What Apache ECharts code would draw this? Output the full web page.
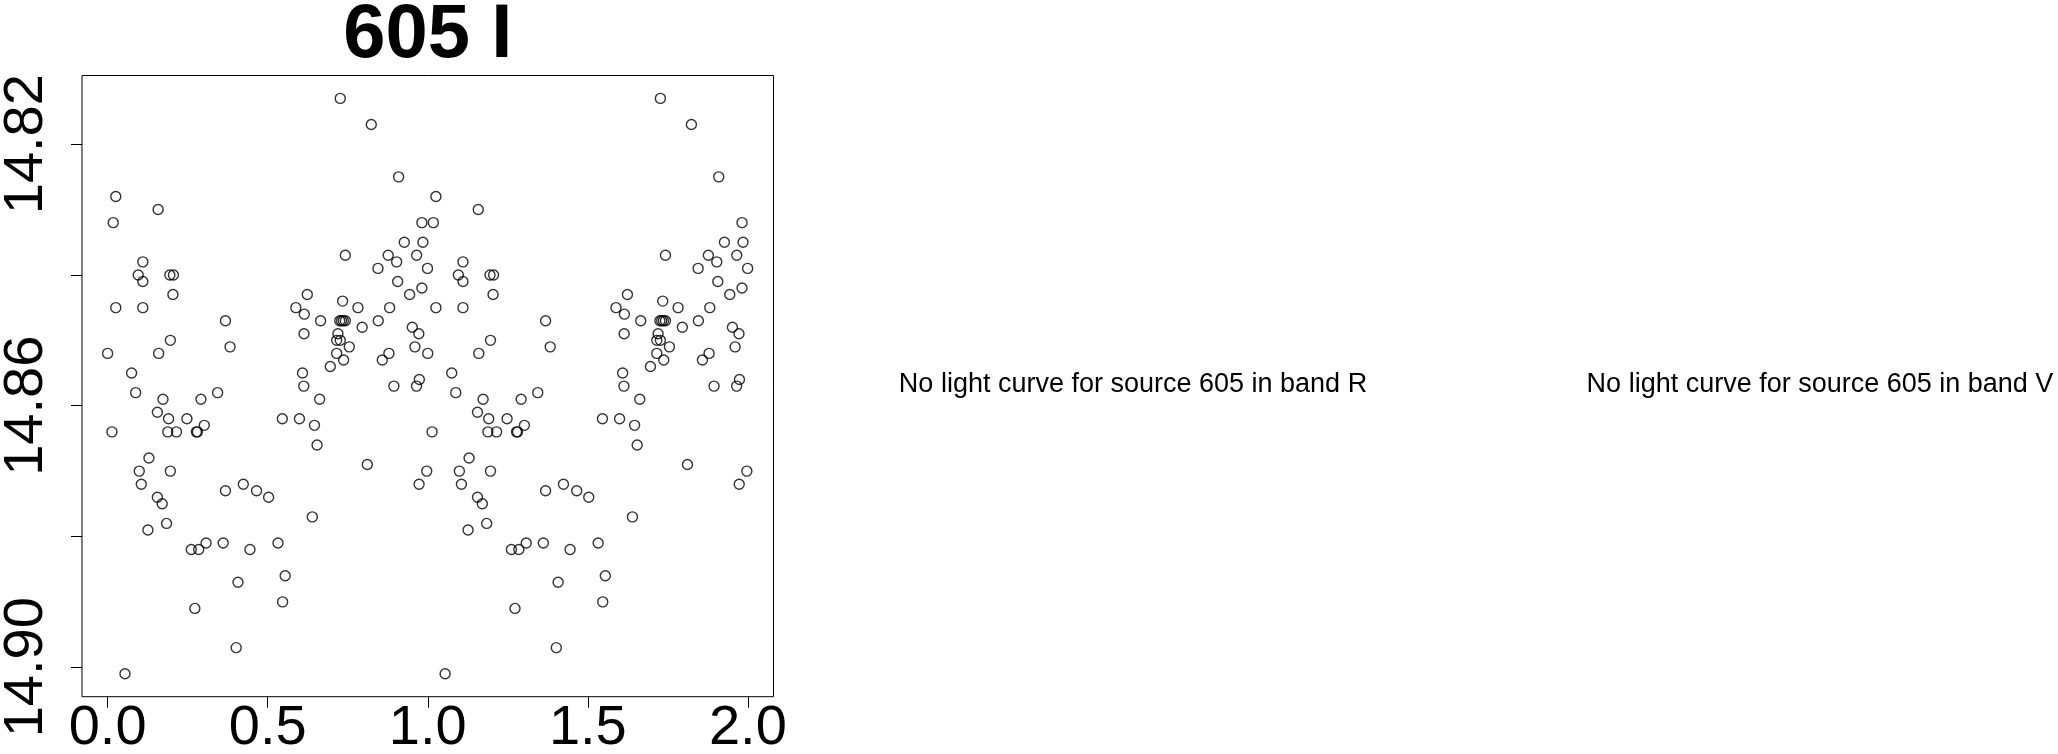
<!DOCTYPE html>
<html>
<head>
<meta charset="utf-8">
<script src="https://cdn.jsdelivr.net/npm/echarts@6/dist/echarts.min.js"></script>
<style>
html,body{margin:0;padding:0;background:#fff;}
#chart{width:2058px;height:754px;}
</style>
</head>
<body>
<div id="chart"></div>
<script>
// Phase-folded light curve, source 605, band I (one cycle, phase 0..1)
const phase = [
0.000,0.0135,0.0175,0.0255,0.0255,0.0542,0.0749,0.0876,0.0956,0.0988,
0.1052,0.1100,0.1100,0.1100,0.1259,0.1291,0.1554,0.1554,0.1578,0.1594,
0.1705,0.1729,0.1841,0.1880,0.1904,0.1944,0.1960,0.1960,0.2056,0.2040,
0.2151,0.2478,0.2614,0.2725,0.2773,0.2805,0.2845,0.2916,0.3020,0.3076,
0.3436,0.3610,0.3681,0.3681,0.3825,0.4072,0.4016,0.4239,0.4446,0.4653,
0.5029,0.5323,0.5457,0.5466,0.5546,0.5880,0.5992,0.6088,0.6128,0.6135,
0.6143,0.6237,0.6394,0.6462,0.6542,0.6623,0.6653,0.6956,0.7155,0.7155,
0.7195,0.7251,0.7267,0.7267,0.7307,0.7340,0.7372,0.7363,0.7425,0.7426,
0.7549,0.7820,0.7952,0.8112,0.8236,0.8445,0.8454,0.8580,0.8787,0.8810,
0.8765,0.8943,0.9028,0.9060,0.9090,0.9267,0.9434,0.9517,0.9600,0.9653,
0.9649,0.9721,0.9729,0.9737,0.9817,0.9817,0.9849,0.9968,0.9992
];
const mag = [
14.852,14.864,14.832,14.828,14.845,14.901,14.855,14.858,14.840,14.870,
14.872,14.838,14.841,14.845,14.879,14.868,14.861,14.874,14.830,14.852,
14.875,14.859,14.878,14.864,14.862,14.840,14.850,14.870,14.840,14.843,
14.864,14.862,14.882,14.891,14.864,14.864,14.882,14.859,14.863,14.881,
14.858,14.881,14.873,14.847,14.851,14.887,14.897,14.872,14.882,14.873,
14.874,14.881,14.862,14.890,14.886,14.845,14.862,14.855,14.857,14.849,
14.846,14.843,14.877,14.863,14.866,14.859,14.847,14.854,14.852,14.850,
14.849,14.847,14.813,14.850,14.847,14.844,14.853,14.847,14.837,14.847,
14.851,14.845,14.848,14.869,14.817,14.839,14.847,14.853,14.852,14.845,
14.837,14.857,14.838,14.841,14.825,14.835,14.843,14.848,14.851,14.837,
14.857,14.849,14.872,14.856,14.842,14.832,14.835,14.870,14.839
];
const xTicks = [0, 0.5, 1, 1.5, 2];
const yTicks = [14.82, 14.84, 14.86, 14.88, 14.90];
const yTickLabels = [14.82, 14.86, 14.90];
const titleText = '605 I';
const noDataR = 'No light curve for source 605 in band R';
const noDataV = 'No light curve for source 605 in band V';

// the folded curve is plotted over two cycles (phase and phase + 1)
const points = [];
for (let k = 0; k < 2; k++) {
  for (let i = 0; i < phase.length; i++) points.push([phase[i] + k, mag[i]]);
}

const FONT = '"Liberation Sans", Arial, Helvetica, sans-serif';
const chart = echarts.init(document.getElementById('chart'), null, {renderer: 'canvas'});
chart.setOption({
  animation: false,
  backgroundColor: '#fff',
  grid: {
    left: 82, top: 75.5, width: 691.5, height: 621.2,
    show: true, borderColor: '#000', borderWidth: 1, backgroundColor: 'transparent',
    containLabel: false, outerBoundsMode: 'none'
  },
  xAxis: {
    type: 'value', min: -0.08, max: 2.08, position: 'bottom',
    axisLine: {show: false, onZero: false},
    splitLine: {show: false},
    axisTick: {show: true, inside: false, length: 11, customValues: xTicks,
      lineStyle: {color: '#000', width: 1}},
    axisLabel: {show: true, customValues: xTicks, margin: 4,
      fontFamily: FONT, fontSize: 56, color: '#000',
      formatter: v => v.toFixed(1)}
  },
  yAxis: {
    type: 'value', inverse: true, min: 14.8095, max: 14.9045, position: 'left',
    axisLine: {show: false, onZero: false},
    splitLine: {show: false},
    axisTick: {show: true, inside: false, length: 11, customValues: yTicks,
      lineStyle: {color: '#000', width: 1}},
    axisLabel: {show: true, customValues: yTickLabels, rotate: 90, margin: 27,
      fontFamily: FONT, fontSize: 56, color: '#000',
      formatter: v => v.toFixed(2)}
  },
  series: [{
    type: 'scatter',
    data: points,
    symbol: 'circle',
    symbolSize: 10,
    itemStyle: {color: 'rgba(0,0,0,0)', borderColor: '#000', borderWidth: 1.4},
    emphasis: {disabled: true},
    silent: true
  }],
  graphic: [
    {type: 'text', x: 427.8, y: 36, silent: true,
      style: {text: titleText, font: 'bold 76px ' + FONT, fill: '#000',
        align: 'center', verticalAlign: 'middle', textAlign: 'center', textVerticalAlign: 'middle'}},
    {type: 'text', x: 1133, y: 385, silent: true,
      style: {text: noDataR, font: '27px ' + FONT, fill: '#000',
        align: 'center', verticalAlign: 'middle', textAlign: 'center', textVerticalAlign: 'middle'}},
    {type: 'text', x: 1820, y: 385, silent: true,
      style: {text: noDataV, font: '27px ' + FONT, fill: '#000',
        align: 'center', verticalAlign: 'middle', textAlign: 'center', textVerticalAlign: 'middle'}}
  ]
});
</script>
</body>
</html>
